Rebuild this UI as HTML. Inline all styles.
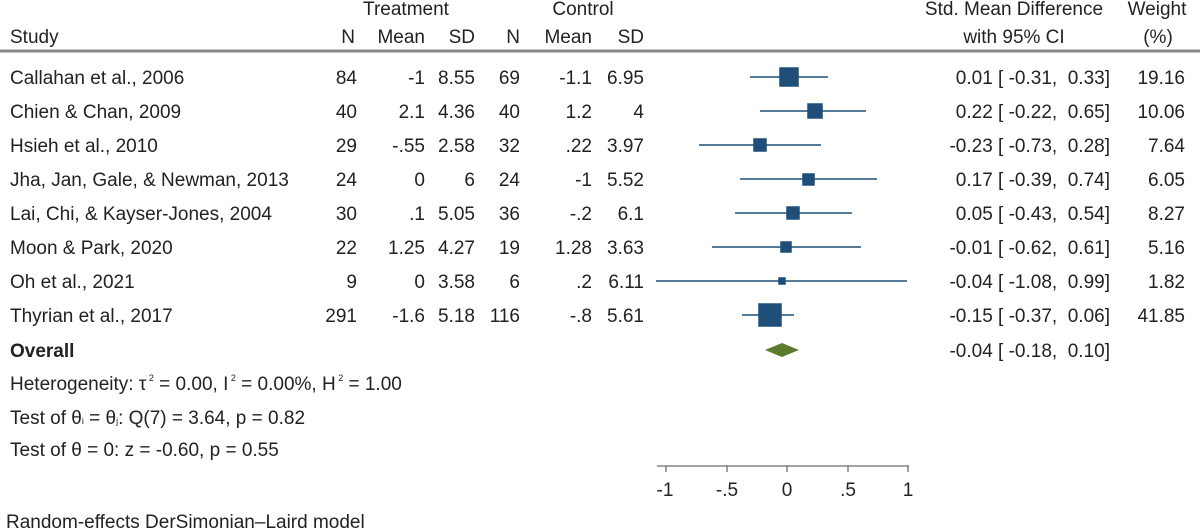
<!DOCTYPE html>
<html><head><meta charset="utf-8"><style>
html,body{margin:0;padding:0;background:#fff;}
svg{display:block;}
text{font-family:"Liberation Sans",Arial,sans-serif;font-size:19px;fill:#222;white-space:pre;}
</style></head><body>
<svg width="1200" height="528" xmlns="http://www.w3.org/2000/svg" xml:space="preserve">
<!-- headers -->
<text x="406" y="15" text-anchor="middle">Treatment</text>
<text x="583" y="15" text-anchor="middle">Control</text>
<text x="1014" y="15" text-anchor="middle">Std. Mean Difference</text>
<text x="1157" y="15" text-anchor="middle">Weight</text>
<text x="10" y="43">Study</text>
<g text-anchor="end">
<text x="355" y="43">N</text><text x="425" y="43">Mean</text><text x="475" y="43">SD</text>
<text x="520" y="43">N</text><text x="592" y="43">Mean</text><text x="644" y="43">SD</text>
</g>
<text x="1014" y="43" text-anchor="middle">with 95% CI</text>
<text x="1158" y="43" text-anchor="middle">(%)</text>
<line x1="0" y1="51" x2="1200" y2="51" stroke="#888" stroke-width="3"/>

<g text-anchor="end">
<text x="10" y="84" text-anchor="start">Callahan et al., 2006</text>
<text x="357" y="84">84</text><text x="425" y="84">-1</text><text x="475" y="84">8.55</text><text x="520" y="84">69</text><text x="592" y="84">-1.1</text><text x="644" y="84">6.95</text>
<text x="1110" y="84">0.01 [ -0.31,  0.33]</text><text x="1185" y="84">19.16</text>

<text x="10" y="118" text-anchor="start">Chien &amp; Chan, 2009</text>
<text x="357" y="118">40</text><text x="425" y="118">2.1</text><text x="475" y="118">4.36</text><text x="520" y="118">40</text><text x="592" y="118">1.2</text><text x="644" y="118">4</text>
<text x="1110" y="118">0.22 [ -0.22,  0.65]</text><text x="1185" y="118">10.06</text>

<text x="10" y="152" text-anchor="start">Hsieh et al., 2010</text>
<text x="357" y="152">29</text><text x="425" y="152">-.55</text><text x="475" y="152">2.58</text><text x="520" y="152">32</text><text x="592" y="152">.22</text><text x="644" y="152">3.97</text>
<text x="1110" y="152">-0.23 [ -0.73,  0.28]</text><text x="1185" y="152">7.64</text>

<text x="10" y="186" text-anchor="start">Jha, Jan, Gale, &amp; Newman, 2013</text>
<text x="357" y="186">24</text><text x="425" y="186">0</text><text x="475" y="186">6</text><text x="520" y="186">24</text><text x="592" y="186">-1</text><text x="644" y="186">5.52</text>
<text x="1110" y="186">0.17 [ -0.39,  0.74]</text><text x="1185" y="186">6.05</text>

<text x="10" y="220" text-anchor="start">Lai, Chi, &amp; Kayser-Jones, 2004</text>
<text x="357" y="220">30</text><text x="425" y="220">.1</text><text x="475" y="220">5.05</text><text x="520" y="220">36</text><text x="592" y="220">-.2</text><text x="644" y="220">6.1</text>
<text x="1110" y="220">0.05 [ -0.43,  0.54]</text><text x="1185" y="220">8.27</text>

<text x="10" y="254" text-anchor="start">Moon &amp; Park, 2020</text>
<text x="357" y="254">22</text><text x="425" y="254">1.25</text><text x="475" y="254">4.27</text><text x="520" y="254">19</text><text x="592" y="254">1.28</text><text x="644" y="254">3.63</text>
<text x="1110" y="254">-0.01 [ -0.62,  0.61]</text><text x="1185" y="254">5.16</text>

<text x="10" y="288" text-anchor="start">Oh et al., 2021</text>
<text x="357" y="288">9</text><text x="425" y="288">0</text><text x="475" y="288">3.58</text><text x="520" y="288">6</text><text x="592" y="288">.2</text><text x="644" y="288">6.11</text>
<text x="1110" y="288">-0.04 [ -1.08,  0.99]</text><text x="1185" y="288">1.82</text>

<text x="10" y="322" text-anchor="start">Thyrian et al., 2017</text>
<text x="357" y="322">291</text><text x="425" y="322">-1.6</text><text x="475" y="322">5.18</text><text x="520" y="322">116</text><text x="592" y="322">-.8</text><text x="644" y="322">5.61</text>
<text x="1110" y="322">-0.15 [ -0.37,  0.06]</text><text x="1185" y="322">41.85</text>

<text x="10" y="357" text-anchor="start" style="font-weight:bold">Overall</text>
<text x="1110" y="357">-0.04 [ -0.18,  0.10]</text>
</g>
<text x="10" y="390">Heterogeneity: τ<tspan dy="-9" font-size="9"> 2</tspan><tspan dy="9"> = 0.00, I</tspan><tspan dy="-9" font-size="9"> 2</tspan><tspan dy="9"> = 0.00%, H</tspan><tspan dy="-9" font-size="9"> 2</tspan><tspan dy="9"> = 1.00</tspan></text>
<text x="10" y="424">Test of θ<tspan font-size="9">i</tspan> = θ<tspan font-size="9">j</tspan>: Q(7) = 3.64, p = 0.82</text>
<text x="10" y="456">Test of θ = 0: z = -0.60, p = 0.55</text>
<text x="6" y="528">Random-effects DerSimonian–Laird model</text>

<!-- forest -->
<g stroke="#1f4e79" stroke-width="1.5" fill="#1f4e79">
<line x1="750" y1="77" x2="828" y2="77"/><rect x="780" y="68" width="18" height="18"/>
<line x1="760" y1="111" x2="866" y2="111"/><rect x="808" y="104" width="14" height="14"/>
<line x1="699" y1="145" x2="821" y2="145"/><rect x="754" y="139" width="12" height="12"/>
<line x1="740" y1="179" x2="877" y2="179"/><rect x="803" y="174" width="11" height="11"/>
<line x1="735" y1="213" x2="852" y2="213"/><rect x="787" y="207" width="12" height="12"/>
<line x1="712" y1="247" x2="861" y2="247"/><rect x="781" y="242" width="10" height="10"/>
<line x1="656" y1="281" x2="907" y2="281"/><rect x="779" y="278" width="6" height="6"/>
<line x1="742" y1="315" x2="794" y2="315"/><rect x="759" y="304" width="22" height="22"/>
</g>
<polygon points="765,350 782,343 799,350 782,357" fill="#5b7b2c"/>

<!-- axis -->
<g stroke="#444" stroke-width="1">
<line x1="657" y1="466" x2="909" y2="466"/>
<line x1="666" y1="466" x2="666" y2="472"/>
<line x1="727" y1="466" x2="727" y2="472"/>
<line x1="787" y1="466" x2="787" y2="472"/>
<line x1="848" y1="466" x2="848" y2="472"/>
<line x1="908" y1="466" x2="908" y2="472"/>
</g>
<g text-anchor="middle" style="font-size:18px">
<text x="665" y="496">-1</text><text x="727" y="496">-.5</text><text x="787" y="496">0</text><text x="848" y="496">.5</text><text x="908" y="496">1</text>
</g>
</svg>
</body></html>
